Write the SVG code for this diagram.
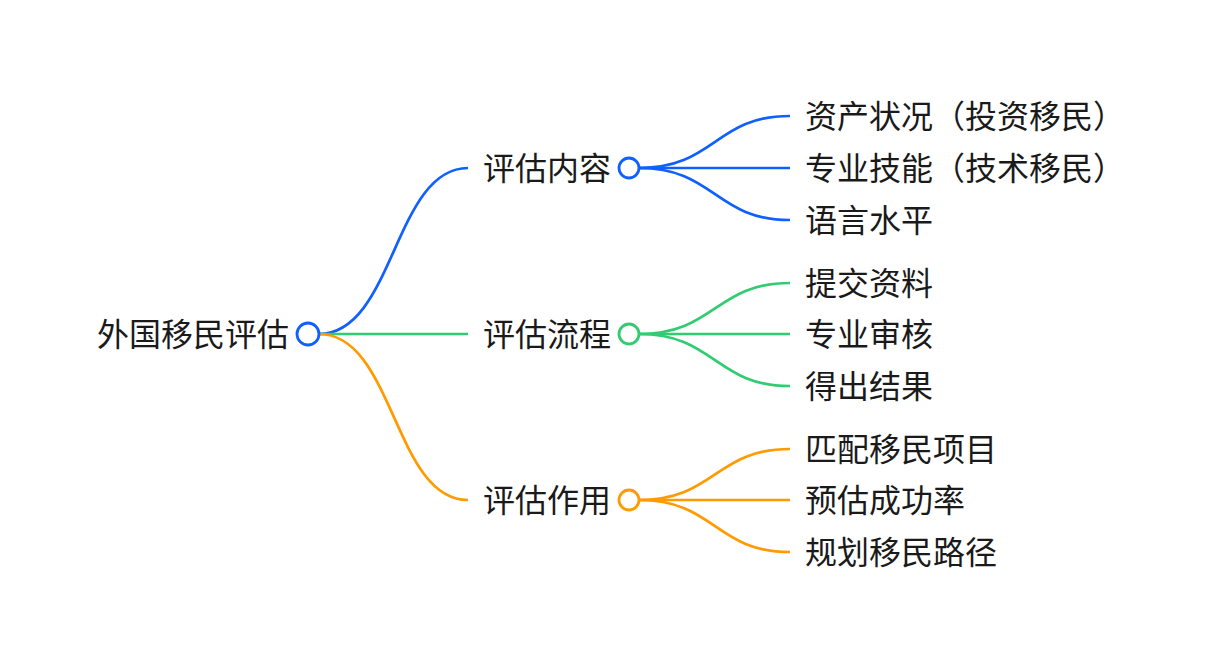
<svg xmlns="http://www.w3.org/2000/svg" width="1224" height="668" viewBox="0 0 1224 668">
<style>
text{font-family:"Noto Sans CJK SC","Noto Sans",sans-serif;font-size:32px;fill:#1a1a1a;dominant-baseline:central}
.l{fill:none;stroke-width:2.7}
.c{fill:#fff;stroke-width:2.8}
.b{stroke:#1060ff}.g{stroke:#30cc72}.o{stroke:#ff9a00}
</style>
<rect width="1224" height="668" fill="#fff"/>
<g id="connectors">
<path class="l b" d="M319,334 C394,334 394,168 468,168"/>
<path class="l g" d="M319,334 L468,334"/>
<path class="l o" d="M319,334 C394,334 394,500 468,500"/>
<path class="l b" d="M639,168 C715,168 715,116 790,116"/>
<path class="l b" d="M639,168 L790,168"/>
<path class="l b" d="M639,168 C715,168 715,220 790,220"/>
<path class="l g" d="M639,334 C715,334 715,283 790,283"/>
<path class="l g" d="M639,334 L790,334"/>
<path class="l g" d="M639,334 C715,334 715,386 790,386"/>
<path class="l o" d="M639,500 C715,500 715,449 790,449"/>
<path class="l o" d="M639,500 L790,500"/>
<path class="l o" d="M639,500 C715,500 715,552 790,552"/>
</g>
<g id="root"><text x="289" y="332" text-anchor="end">外国移民评估</text><circle class="c b" cx="308" cy="334" r="11"/></g>
<g id="n1"><text x="483" y="166">评估内容</text><circle class="c b" cx="629" cy="168" r="10"/></g>
<g id="n2"><text x="483" y="332">评估流程</text><circle class="c g" cx="629" cy="334" r="10"/></g>
<g id="n3"><text x="483" y="498">评估作用</text><circle class="c o" cx="629" cy="500" r="10"/></g>
<g id="n1a"><text x="805" y="114">资产状况（投资移民）</text></g>
<g id="n1b"><text x="805" y="166">专业技能（技术移民）</text></g>
<g id="n1c"><text x="805" y="218">语言水平</text></g>
<g id="n2a"><text x="805" y="281">提交资料</text></g>
<g id="n2b"><text x="805" y="332">专业审核</text></g>
<g id="n2c"><text x="805" y="384">得出结果</text></g>
<g id="n3a"><text x="805" y="447">匹配移民项目</text></g>
<g id="n3b"><text x="805" y="498">预估成功率</text></g>
<g id="n3c"><text x="805" y="550">规划移民路径</text></g>
</svg>
